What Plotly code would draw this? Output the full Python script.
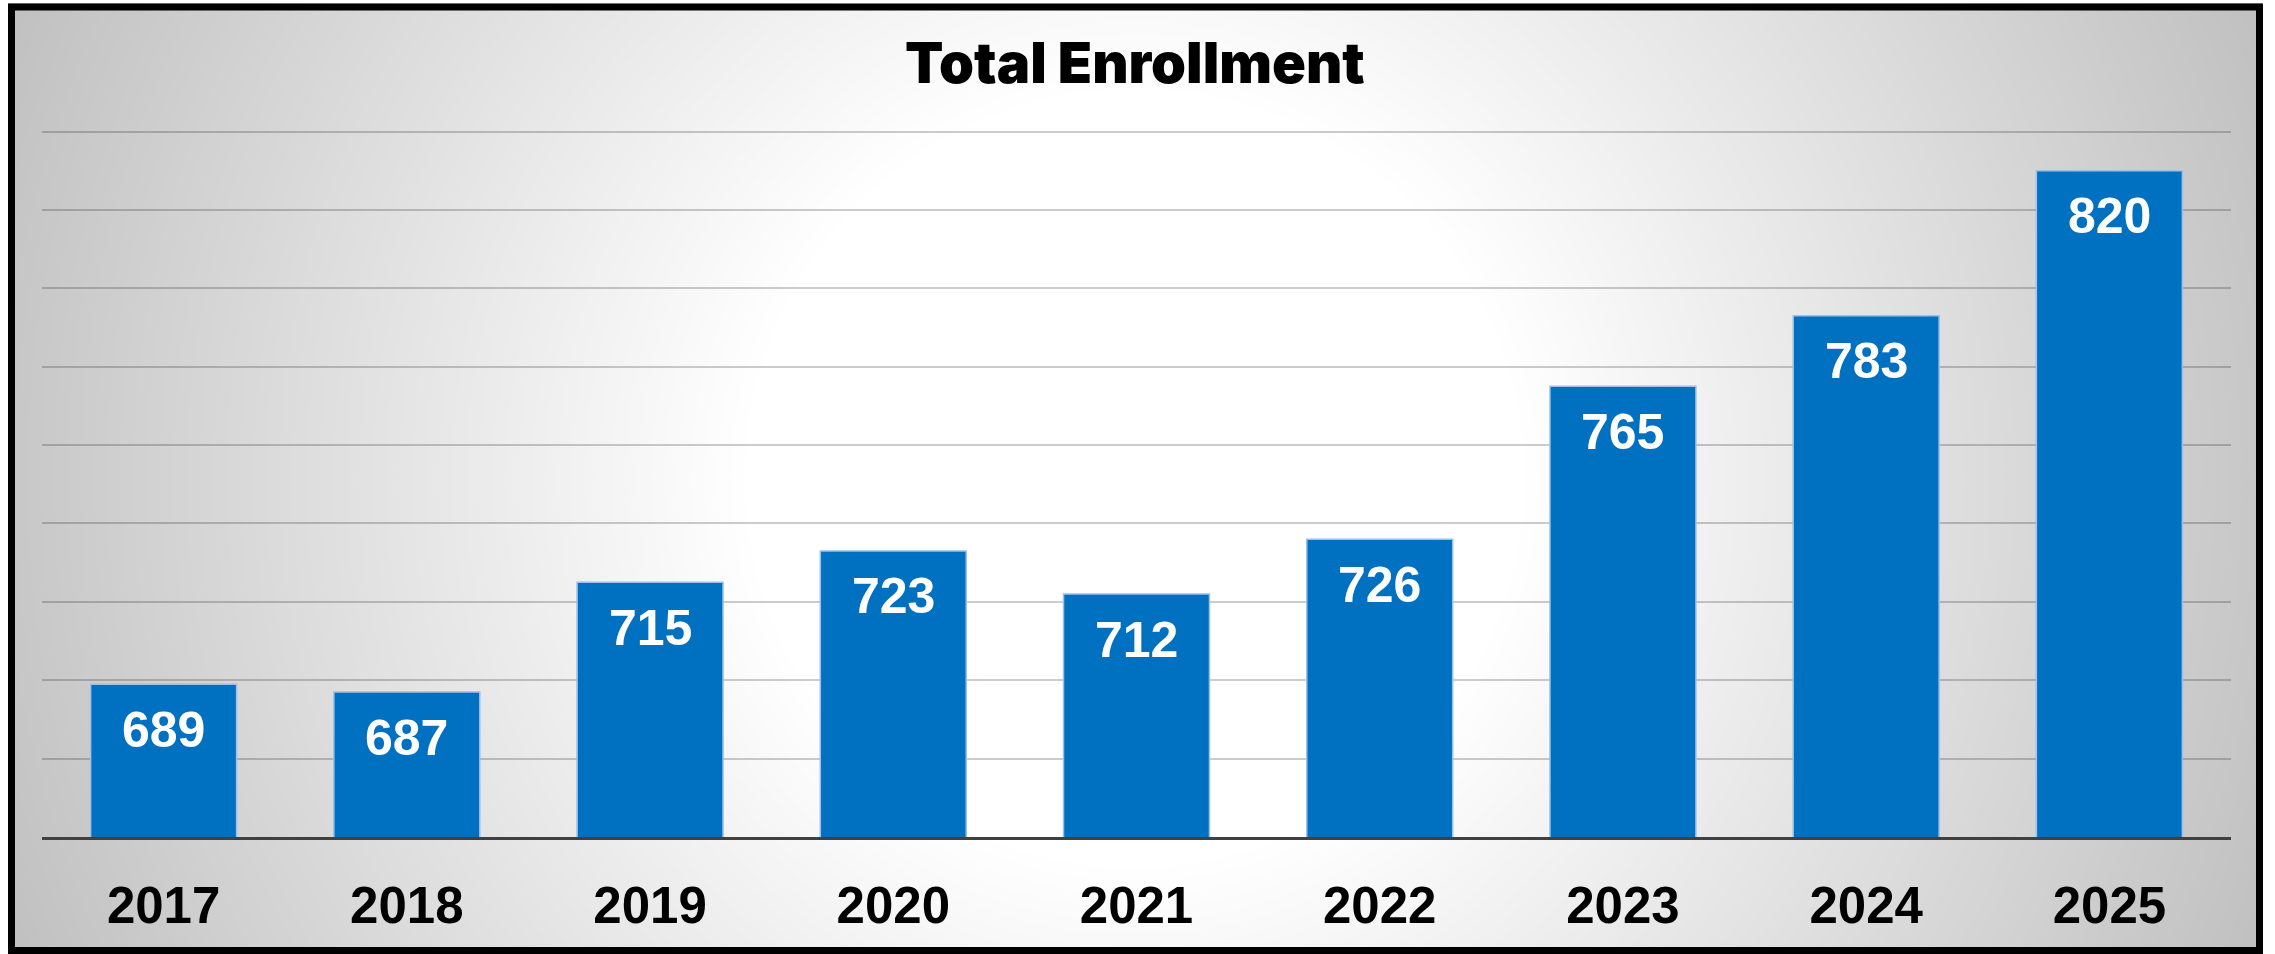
import plotly.graph_objects as go

# Enrollment by school year
years = ["2017", "2018", "2019", "2020", "2021", "2022", "2023", "2024", "2025"]
enrollment = [689, 687, 715, 723, 712, 726, 765, 783, 820]

# Figure geometry (pixels)
W, H = 2275, 954
ML, MR, MT, MB = 42, 44, 112, 117
PW, PH = W - ML - MR, H - MT - MB


def px_x(px):
    return (px - ML) / PW


def px_y(py):
    return (H - MB - py) / PH


BAR_BLUE = "#0070C0"

fig = go.Figure(
    go.Bar(
        x=years,
        y=enrollment,
        marker=dict(color=BAR_BLUE, line=dict(color="#9CC0E6", width=1.5)),
        hoverinfo="x+y",
    )
)

shapes = []

# Radial grey-to-white background, built from concentric discs
cx, cy = px_x(1134.5), px_y(478)
r_out, r_in = 1240.0, 390.0
steps = 64
for i in range(steps + 1):
    r = r_out - i * (r_out - r_in) / steps
    g = min(255, 191 + i)
    shapes.append(dict(
        type="circle", xref="paper", yref="paper",
        xsizemode="pixel", ysizemode="pixel",
        xanchor=cx, yanchor=cy,
        x0=-r, x1=r, y0=-r, y1=r,
        fillcolor=f"rgb({g},{g},{g})", line=dict(width=0), layer="below",
    ))

# White page outside the frame
for x0, x1, y0, y1 in [
    (px_x(2262), px_x(2300), px_y(1000), px_y(-50)),
    (px_x(-50), px_x(8), px_y(1000), px_y(-50)),
    (px_x(-50), px_x(2300), px_y(3), px_y(-50)),
    (px_x(-50), px_x(2300), px_y(1000), px_y(953)),
]:
    shapes.append(dict(type="rect", xref="paper", yref="paper",
                       x0=x0, x1=x1, y0=y0, y1=y1,
                       fillcolor="white", line=dict(width=0), layer="below"))

# Black chart frame
shapes.append(dict(type="rect", xref="paper", yref="paper",
                   x0=px_x(11.5), x1=px_x(2259.5), y0=px_y(950.5), y1=px_y(7),
                   line=dict(color="black", width=7), fillcolor="rgba(0,0,0,0)",
                   layer="below"))

annotations = [
    dict(text="Total Enrollment", xref="paper", yref="paper",
         x=px_x(1135), y=px_y(62.5), xanchor="center", yanchor="middle",
         showarrow=False,
         font=dict(family="Inter", size=56, color="black", weight=900)),
]

# Value labels inside the top of each bar (x given as category index)
for idx, v in enumerate(enrollment):
    annotations.append(dict(
        x=idx, y=v, xref="x", yref="y", text=str(v), showarrow=False,
        xanchor="center", yanchor="top", yshift=-15.5,
        font=dict(family="Liberation Sans", size=50, color="white", weight="bold"),
    ))

fig.update_layout(
    width=W, height=H,
    margin=dict(l=ML, r=MR, t=MT, b=MB, pad=0, autoexpand=False),
    paper_bgcolor="white",
    plot_bgcolor="rgba(0,0,0,0)",
    bargap=0.4,
    showlegend=False,
    shapes=shapes,
    annotations=annotations,
    xaxis=dict(
        type="category", range=[-0.5, len(years) - 0.5], automargin=False,
        showgrid=False, ticks="", showline=True, linecolor="#404040", linewidth=3,
        tickfont=dict(family="Liberation Sans", size=51, color="black", weight="bold"),
        ticklabelstandoff=22, fixedrange=True,
    ),
    yaxis=dict(
        range=[650, 835], dtick=20, tick0=650, showticklabels=False, ticks="",
        showgrid=True, gridcolor="rgba(0,0,0,0.2)", gridwidth=1.5,
        zeroline=False, showline=False, fixedrange=True, automargin=False,
    ),
)

fig.write_html("out.html")
